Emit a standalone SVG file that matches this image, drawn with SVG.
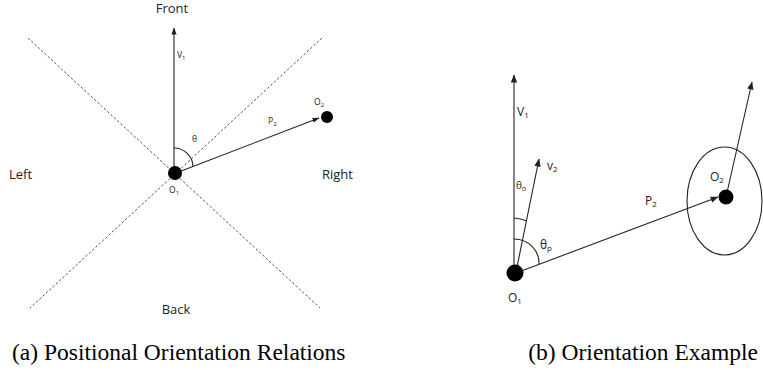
<svg xmlns="http://www.w3.org/2000/svg" width="763" height="370" viewBox="0 0 763 370">
<style>
.ln{stroke:#222;stroke-width:1.1;fill:none}
.dash{stroke:#555;stroke-width:1;stroke-dasharray:2.5,2;fill:none}
.dot{fill:#000}
.lab{font-family:"Open Sans","Liberation Sans",sans-serif;fill:#222}
.big{font-size:13px}
.sm{font-size:8.5px}
.md{font-size:12px}
.cap{font-family:"Liberation Serif",serif;font-size:23.5px;fill:#000}
</style>
<defs>
<marker id="ah" markerUnits="userSpaceOnUse" markerWidth="8" markerHeight="8" viewBox="0 0 8 8" refX="7.5" refY="4" orient="auto">
<path d="M0,0.8 L8,4 L0,7.2 Z" fill="#222"/>
</marker>
<marker id="ahs" markerUnits="userSpaceOnUse" markerWidth="7" markerHeight="7" viewBox="0 0 8 8" refX="7.5" refY="4" orient="auto">
<path d="M0,1 L8,4 L0,7 Z" fill="#222"/>
</marker>
</defs>
<g id="connectors">
<line class="dash" x1="28" y1="38" x2="320" y2="308"/>
<line class="dash" x1="322" y1="38" x2="30" y2="308"/>
<line class="ln" x1="174" y1="172" x2="174" y2="28" marker-end="url(#ahs)"/>
<line class="ln" x1="176" y1="173" x2="319" y2="118" marker-end="url(#ahs)"/>
<path class="ln" d="M174,148 A19,19 0 0 1 193,167"/>
<line class="ln" x1="514" y1="272" x2="514" y2="75" marker-end="url(#ah)"/>
<line class="ln" x1="516" y1="272" x2="539" y2="159" marker-end="url(#ah)"/>
<line class="ln" x1="516" y1="273" x2="718" y2="197" marker-end="url(#ah)"/>
<line class="ln" x1="726" y1="197" x2="752" y2="82" marker-end="url(#ah)"/>
<path class="ln" d="M514,218 A54,54 0 0 1 527,221"/>
<path class="ln" d="M514,239 A25,24 0 0 1 539,264"/>
<ellipse class="ln" cx="724.5" cy="201" rx="37.5" ry="54"/>
</g>
<g id="left-labels">
<text class="lab big" x="172" y="13" text-anchor="middle">Front</text>
<text class="lab big" x="9" y="179">Left</text>
<text class="lab big" x="322" y="179">Right</text>
<text class="lab big" x="176" y="314" text-anchor="middle">Back</text>
<text class="lab sm" x="177" y="58">V<tspan font-size="6" dy="1.5">1</tspan></text>
<text class="lab sm" x="192" y="142">θ</text>
<text class="lab sm" x="268" y="124">P<tspan font-size="6" dy="1.5">2</tspan></text>
</g>
<g id="node-O1a">
<circle class="dot" cx="175" cy="173" r="7"/>
<text class="lab sm" x="169" y="193">O<tspan font-size="6" dy="1.5">1</tspan></text>
</g>
<g id="node-O2a">
<circle class="dot" cx="327" cy="117" r="6"/>
<text class="lab sm" x="314" y="105">O<tspan font-size="6" dy="1.5">2</tspan></text>
</g>
<g id="right-labels">
<text class="lab md" x="517" y="116">V<tspan font-size="8" dy="2">1</tspan></text>
<text class="lab md" x="547" y="170">v<tspan font-size="8" dy="2">2</tspan></text>
<text class="lab" font-size="10" x="516" y="189">θ<tspan font-size="7" dy="1.5">o</tspan></text>
<text class="lab md" x="540" y="249">θ<tspan font-size="8" dy="2">p</tspan></text>
<text class="lab md" x="645" y="205">P<tspan font-size="8" dy="2">2</tspan></text>
</g>
<g id="node-O1b">
<circle class="dot" cx="515" cy="273" r="8.5"/>
<text class="lab md" x="508" y="302">O<tspan font-size="8" dy="2">1</tspan></text>
</g>
<g id="node-O2b">
<circle class="dot" cx="726" cy="197" r="7.5"/>
<text class="lab md" x="710" y="181">O<tspan font-size="8" dy="2">2</tspan></text>
</g>
<g id="captions">
<text class="cap" x="12" y="360">(a) Positional Orientation Relations</text>
<text class="cap" x="758" y="360" text-anchor="end">(b) Orientation Example</text>
</g>
</svg>
